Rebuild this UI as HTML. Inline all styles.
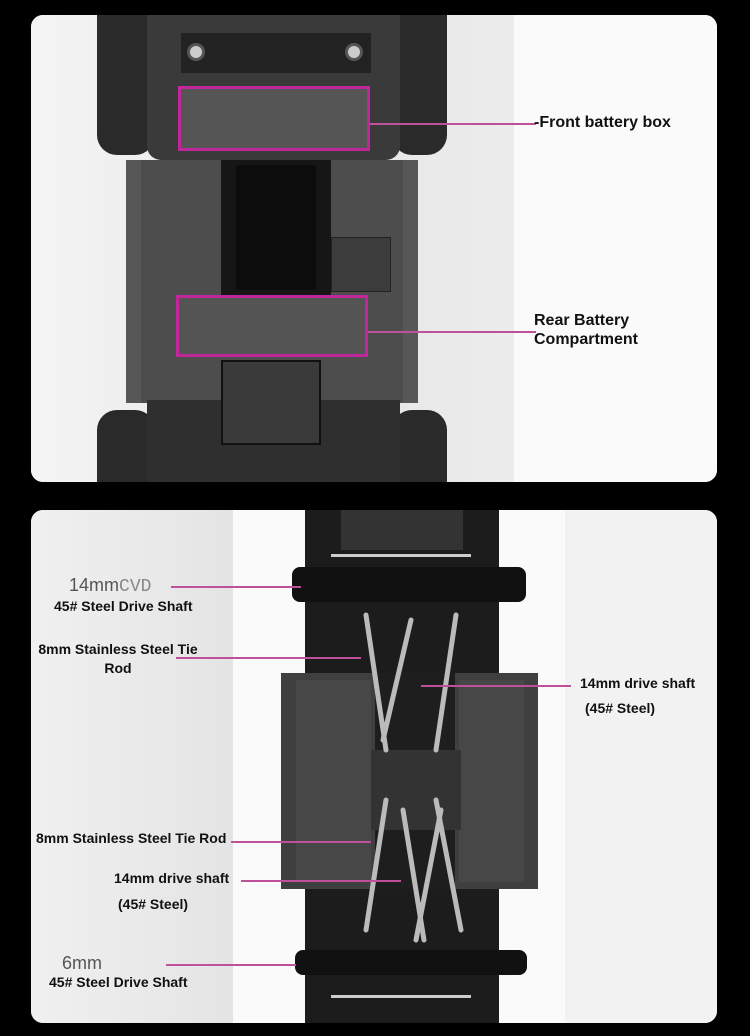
<!DOCTYPE html>
<html><head><style>
body{margin:0;width:750px;height:1036px;background:#000;position:relative;overflow:hidden;font-family:"Liberation Sans",sans-serif}
div{position:absolute;box-sizing:border-box}
.p{border-radius:12px;overflow:hidden;background:#e9e9e9}
.lbl{font-weight:bold;font-size:14px;color:#111;line-height:19px;white-space:nowrap}
.ln{height:2px;background:#c0509a}
.mg{border:3px solid #c0279a}
</style></head><body>
<!-- top panel -->
<div class="p" style="left:31px;top:15px;width:686px;height:467px">
 <div style="left:0;top:0;width:483px;height:467px;background:linear-gradient(90deg,#f4f4f4,#e6e6e6 60%,#ececec)"></div>
 <div style="left:483px;top:0;width:203px;height:467px;background:#fafafa"></div>
 <div style="left:66px;top:0;width:58px;height:140px;background:#2a2a2a;border-radius:0 0 20px 20px"></div>
 <div style="left:361px;top:0;width:55px;height:140px;background:#2a2a2a;border-radius:0 0 20px 20px"></div>
 <div style="left:66px;top:395px;width:58px;height:72px;background:#2a2a2a;border-radius:20px 20px 0 0"></div>
 <div style="left:361px;top:395px;width:55px;height:72px;background:#2a2a2a;border-radius:20px 20px 0 0"></div>
 <div style="left:116px;top:0;width:253px;height:145px;background:#3a3a3a;border-radius:0 0 14px 14px"></div>
 <div style="left:150px;top:18px;width:190px;height:40px;background:#222"></div>
 <div style="left:156px;top:28px;width:18px;height:18px;border-radius:50%;background:#ccc;border:3px solid #555"></div>
 <div style="left:314px;top:28px;width:18px;height:18px;border-radius:50%;background:#ccc;border:3px solid #555"></div>
 <div style="left:95px;top:145px;width:292px;height:243px;background:#575757"></div>
 <div style="left:110px;top:145px;width:262px;height:243px;background:#4d4d4d"></div>
 <div style="left:190px;top:145px;width:110px;height:135px;background:#161616"></div>
 <div style="left:205px;top:150px;width:80px;height:125px;background:#0c0c0c"></div>
 <div style="left:300px;top:222px;width:60px;height:55px;background:#3c3c3c;border:1px solid #222"></div>
 <div style="left:116px;top:385px;width:253px;height:82px;background:#2f2f2f"></div>
 <div style="left:190px;top:345px;width:100px;height:85px;background:#3a3a3a;border:2px solid #111"></div>
 <div class="mg" style="left:147px;top:71px;width:192px;height:65px;background:#555"></div>
 <div class="mg" style="left:145px;top:280px;width:192px;height:62px;background:#545454"></div>
 <div class="ln" style="left:339px;top:108px;width:166px"></div>
 <div class="ln" style="left:337px;top:316px;width:168px"></div>
 <div class="lbl" style="left:503px;top:98px;font-size:16px">-Front battery box</div>
 <div class="lbl" style="left:503px;top:296px;font-size:16px">Rear Battery<br>Compartment</div>
</div>
<!-- bottom panel -->
<div class="p" style="left:31px;top:510px;width:686px;height:513px">
 <div style="left:0;top:0;width:202px;height:513px;background:linear-gradient(90deg,#f0f0f0,#e4e4e4)"></div>
 <div style="left:202px;top:0;width:332px;height:513px;background:#fafafa"></div>
 <div style="left:534px;top:0;width:152px;height:513px;background:#f2f2f2"></div>
 <div style="left:274px;top:0;width:194px;height:513px;background:#1c1c1c"></div>
 <div style="left:310px;top:0;width:122px;height:40px;background:#333"></div>
 <div style="left:250px;top:163px;width:257px;height:216px;background:#3f3f3f"></div>
 <div style="left:265px;top:170px;width:75px;height:202px;background:#474747"></div>
 <div style="left:428px;top:170px;width:65px;height:202px;background:#474747"></div>
 <div style="left:344px;top:163px;width:80px;height:216px;background:#1e1e1e"></div>
 <div style="left:340px;top:240px;width:90px;height:80px;background:#333"></div>
 <div style="left:261px;top:57px;width:234px;height:35px;background:#111;border-radius:8px"></div>
 <div style="left:264px;top:440px;width:232px;height:25px;background:#111;border-radius:8px"></div>
 <div style="left:300px;top:44px;width:140px;height:3px;background:#ccc"></div>
 <div style="left:300px;top:485px;width:140px;height:3px;background:#ccc"></div>
 <svg style="position:absolute;left:0;top:0" width="686" height="513">
  <g stroke="#bbb" stroke-width="5" stroke-linecap="round">
   <line x1="335" y1="105" x2="355" y2="240"/><line x1="380" y1="110" x2="352" y2="230"/>
   <line x1="425" y1="105" x2="405" y2="240"/>
   <line x1="355" y1="290" x2="335" y2="420"/><line x1="372" y1="300" x2="393" y2="430"/>
   <line x1="405" y1="290" x2="430" y2="420"/><line x1="410" y1="300" x2="385" y2="430"/>
  </g>
 </svg>
 <div class="ln" style="left:140px;top:76px;width:130px"></div>
 <div class="ln" style="left:145px;top:147px;width:185px"></div>
 <div class="ln" style="left:390px;top:175px;width:150px"></div>
 <div class="ln" style="left:200px;top:331px;width:140px"></div>
 <div class="ln" style="left:210px;top:370px;width:160px"></div>
 <div class="ln" style="left:135px;top:454px;width:130px"></div>
 <div style="left:38px;top:65px;font-size:18px;color:#555">14mm<span style="font-family:'Liberation Mono',monospace;color:#888">CVD</span></div>
 <div class="lbl" style="left:23px;top:87px">45# Steel Drive Shaft</div>
 <div class="lbl" style="left:2px;top:130px;text-align:center;width:170px">8mm Stainless Steel Tie<br>Rod</div>
 <div class="lbl" style="left:549px;top:164px">14mm drive shaft</div>
 <div class="lbl" style="left:554px;top:189px">(45# Steel)</div>
 <div class="lbl" style="left:5px;top:319px">8mm Stainless Steel Tie Rod</div>
 <div class="lbl" style="left:83px;top:359px">14mm drive shaft</div>
 <div class="lbl" style="left:87px;top:385px">(45# Steel)</div>
 <div style="left:31px;top:443px;font-size:18px;color:#555">6mm</div>
 <div class="lbl" style="left:18px;top:463px">45# Steel Drive Shaft</div>
</div>
</body></html>
